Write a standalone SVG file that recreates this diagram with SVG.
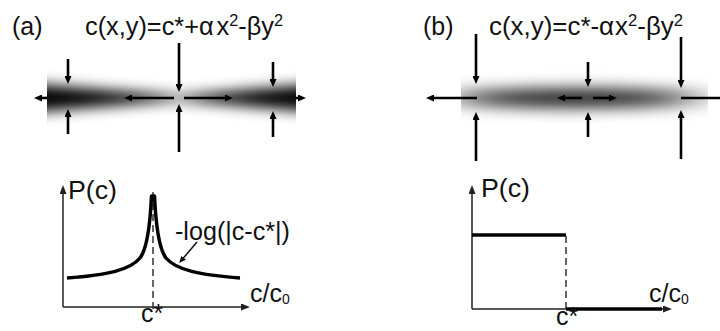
<svg xmlns="http://www.w3.org/2000/svg" width="720" height="331" viewBox="0 0 720 331">
<style>
.t{font-family:"Liberation Sans",Arial,Helvetica,sans-serif;font-size:25px;fill:#111}
.ar{stroke:#000;stroke-width:2.6;fill:none;marker-end:url(#ah)}
.ax{stroke:#222;stroke-width:1.5;fill:none;marker-end:url(#axh)}
.dash{stroke:#333;stroke-width:1.5;stroke-dasharray:7 4;fill:none}
.thick{stroke:#000;stroke-width:3.5;fill:none;stroke-linejoin:round}
</style>
<defs>
<marker id="ah" viewBox="0 0 8 7" refX="3" refY="3.5" markerWidth="8" markerHeight="7" markerUnits="userSpaceOnUse" orient="auto"><path d="M0,0 L8,3.5 L0,7 z" fill="#000"/></marker>
<marker id="axh" viewBox="0 0 9 7" refX="1" refY="3.5" markerWidth="9" markerHeight="7" markerUnits="userSpaceOnUse" orient="auto"><path d="M0,0 L9,3.5 L0,7 z" fill="#222"/></marker>
<marker id="smh" viewBox="0 0 7 6" refX="1" refY="3" markerWidth="7" markerHeight="6" markerUnits="userSpaceOnUse" orient="auto"><path d="M0,0 L7,3 L0,6 z" fill="#111"/></marker>
<filter id="blurA" x="-20%" y="-150%" width="140%" height="400%"><feGaussianBlur stdDeviation="7"/></filter>
<filter id="blurB" x="-50%" y="-200%" width="200%" height="500%"><feGaussianBlur stdDeviation="26 8"/></filter>
<clipPath id="clipA"><rect x="47" y="62" width="249" height="72"/></clipPath>
<clipPath id="clipB"><rect x="461" y="62" width="247" height="72"/></clipPath>
</defs>
<rect width="720" height="331" fill="#fff"/>

<g id="panel-a-field">
<text class="t" x="12" y="35">(a)</text>
<text class="t" x="85" y="35" textLength="198" lengthAdjust="spacingAndGlyphs">c(x,y)=c*+α<tspan dx="3">x</tspan><tspan font-size="16" dy="-9">2</tspan><tspan dy="9">-βy</tspan><tspan font-size="16" dy="-9">2</tspan></text>
<g clip-path="url(#clipA)"><polygon points="20,83 179,96 330,83 330,113 179,100 20,113" fill="#000" filter="url(#blurA)"/></g>
</g>

<g id="panel-b-field">
<text class="t" x="423" y="35">(b)</text>
<text class="t" x="489" y="35" textLength="194" lengthAdjust="spacingAndGlyphs">c(x,y)=c*-α<tspan dx="1">x</tspan><tspan font-size="16" dy="-9">2</tspan><tspan dy="9">-βy</tspan><tspan font-size="16" dy="-9">2</tspan></text>
<g clip-path="url(#clipB)"><ellipse cx="575" cy="98" rx="125" ry="9" fill="#000" fill-opacity="0.95" filter="url(#blurB)"/></g>
</g>

<g id="panel-a-plot">
<path class="ax" d="M63,307 L63,193"/>
<path class="ax" d="M63,307 L242,307"/>
<path class="dash" d="M153,192 L153,312"/>
<path class="thick" d="M67,278 C108,275 130,270 140,258 C147,249 150,228 151.5,196 L154.5,196 C156,228 159,249 166,258 C176,270 200,275 240,278"/>
<path d="M197,242 L183,258.5" stroke="#111" stroke-width="1.5" fill="none" marker-end="url(#smh)"/>
<text class="t" x="68" y="199" textLength="49" lengthAdjust="spacingAndGlyphs">P(c)</text>
<text class="t" x="175" y="240" textLength="115" lengthAdjust="spacingAndGlyphs">-log(|c-c*|)</text>
<text class="t" x="250" y="302">c/c<tspan font-size="14" dy="2">0</tspan></text>
<text class="t" x="141" y="322">c*</text>
</g>

<g id="panel-b-plot">
<path class="ax" d="M472,309 L472,193"/>
<path class="ax" d="M472,309 L664,309"/>
<path class="thick" d="M472,235 L566,235"/>
<path class="dash" d="M566,236 L566,309"/>
<path class="thick" d="M566,309 L662,309"/>
<text class="t" x="481" y="197" textLength="49" lengthAdjust="spacingAndGlyphs">P(c)</text>
<text class="t" x="649" y="302">c/c<tspan font-size="14" dy="2">0</tspan></text>
<text class="t" x="556" y="325" font-size="24">c*</text>
</g>

<g id="connectors">
<path class="ar" d="M47,98 L39,98"/>
<path class="ar" d="M68,59 L68,79"/>
<path class="ar" d="M68,134 L68,114"/>
<path class="ar" d="M179,43 L179,87"/>
<path class="ar" d="M179,152 L179,109"/>
<path class="ar" d="M174,98 L129,98"/>
<path class="ar" d="M184,98 L228,98"/>
<path class="ar" d="M273,62 L273,82"/>
<path class="ar" d="M273,137 L273,116"/>
<path class="ar" d="M296,98 L301,98"/>

<path class="ar" d="M477,98 L431,98"/>
<path class="ar" d="M476,34 L476,79"/>
<path class="ar" d="M476,161 L476,117"/>
<path class="ar" d="M582,98 L562,98"/>
<path class="ar" d="M593,98 L612,98"/>
<path class="ar" d="M588,62 L588,82"/>
<path class="ar" d="M588,137 L588,117"/>
<path class="ar" d="M681,37 L681,83"/>
<path class="ar" d="M681,159 L681,115"/>
<path d="M681,98 L722,98" stroke="#000" stroke-width="2.6"/>
</g>
</svg>
